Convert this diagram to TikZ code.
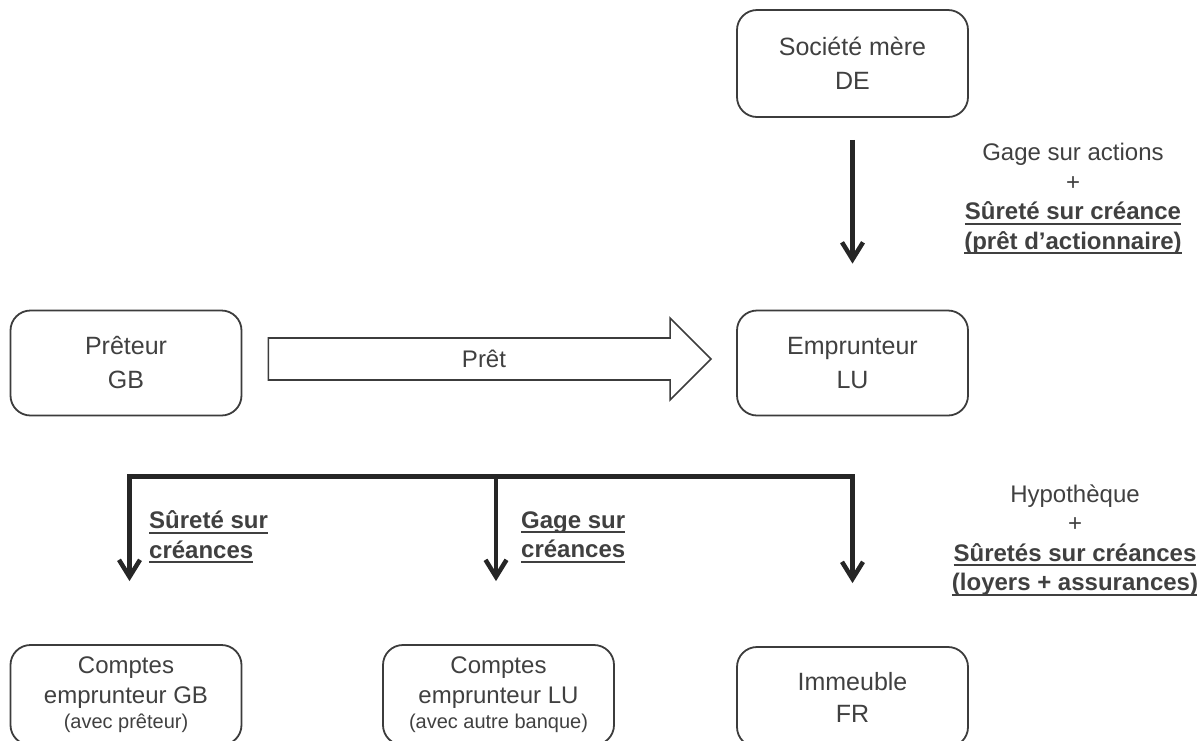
\documentclass[tikz,border=0pt]{standalone}
\usepackage{fontspec}
\setmainfont{Liberation Sans}
\usetikzlibrary{arrows.meta,calc}
\definecolor{boxgray}{HTML}{3C3C3C}
\definecolor{txtgray}{HTML}{404040}
\definecolor{linegray}{HTML}{262626}
% thick underline for the bold security labels
\newcommand{\thul}[1]{\setbox0=\hbox{#1}\rlap{\rule[-5pt]{\wd0}{2pt}}\box0}
\begin{document}
\begin{tikzpicture}[x=1pt,y=-1pt,
  box/.style={draw=boxgray,line width=1.8pt,rounded corners=20pt,
    minimum width=231pt,minimum height=105pt,align=center,text=txtgray,
    font=\fontsize{25}{34}\selectfont},
  lab/.style={text=txtgray,font=\fontsize{24}{29.5}\selectfont,inner sep=0pt},
  conn/.style={draw=linegray,line width=4.5pt,
    -{Straight Barb[length=17pt,width=21pt,line width=4.5pt]}},
  bus/.style={draw=linegray,line width=5pt,line cap=rect},
  hollow/.style={draw=boxgray,line width=1.6pt,fill=white,line join=miter}]
\useasboundingbox (0,0) rectangle (1197,740);
\clip (0,0) rectangle (1197,740);

% parties
\node[box,minimum height=107pt] (soc) at (852.5,63.5) {Société mère\\DE};
\node[box] (pre) at (126,363) {Prêteur\\GB};
\node[box] (emp) at (852.5,363) {Emprunteur\\LU};

% secured assets (boxes run past the lower edge)
\node[box,minimum height=100pt,font=\fontsize{24}{30}\selectfont] (cgb) at (126,695)
  {Comptes\\emprunteur GB\\[-5pt]{\fontsize{20}{24}\selectfont (avec prêteur)}};
\node[box,minimum height=100pt,font=\fontsize{24}{30}\selectfont] (clu) at (498.5,695)
  {Comptes\\emprunteur LU\\[-5pt]{\fontsize{20}{24}\selectfont (avec autre banque)}};
\node[box,minimum height=100pt,font=\fontsize{25}{32}\selectfont] (imm) at (852.5,697) {Immeuble\\FR};

% share pledge arrow
\draw[conn] ($(soc.south)+(0,22)$) -- ($(emp.north)+(0,-46)$);
\node[lab,align=center] (lbtop) at (1073,199)
  {Gage sur actions\\+\\\thul{\textbf{Sûreté sur créance}}\\\thul{\textbf{(prêt d’actionnaire)}}};

% loan: hollow block arrow
\coordinate (ls) at ($(pre.east)+(26,-4)$);
\coordinate (lt) at ($(emp.west)+(-25,-4)$);
\draw[hollow] ($(ls)+(0,-21)$) -- ($(lt)+(-41,-21)$) -- ($(lt)+(-41,-41)$) -- (lt)
  -- ($(lt)+(-41,41)$) -- ($(lt)+(-41,21)$) -- ($(ls)+(0,21)$) -- cycle;
\node[lab] (pret) at ($(ls)!0.487!(lt)$) {Prêt};

% distribution bar to the borrower's assets
\coordinate (busL) at ($(cgb.north)+(3.5,-167.5)$);
\coordinate (busR) at ($(imm.north)+(0,-169.5)$);
\coordinate (busM) at ($(clu.north)+(-2.5,0)$);
\draw[bus] (busL) -- (busR);
\draw[conn] (busL) -- ($(cgb.north)+(3.5,-63)$);
\draw[conn] (busM |- busL) -- ($(clu.north)+(-2.5,-63)$);
\draw[conn] (busR) -- ($(imm.north)+(0,-63)$);

\node[lab,align=left,anchor=west] (lbl1) at (149,537)
  {\thul{\textbf{Sûreté sur}}\\\thul{\textbf{créances}}};
\node[lab,align=left,anchor=west] (lbl2) at (521,537)
  {\thul{\textbf{Gage sur}}\\\thul{\textbf{créances}}};
\node[lab,align=center] (lbbot) at (1075,540)
  {Hypothèque\\+\\\thul{\textbf{Sûretés sur créances}}\\\thul{\textbf{(loyers + assurances)}}};
\end{tikzpicture}
\end{document}
